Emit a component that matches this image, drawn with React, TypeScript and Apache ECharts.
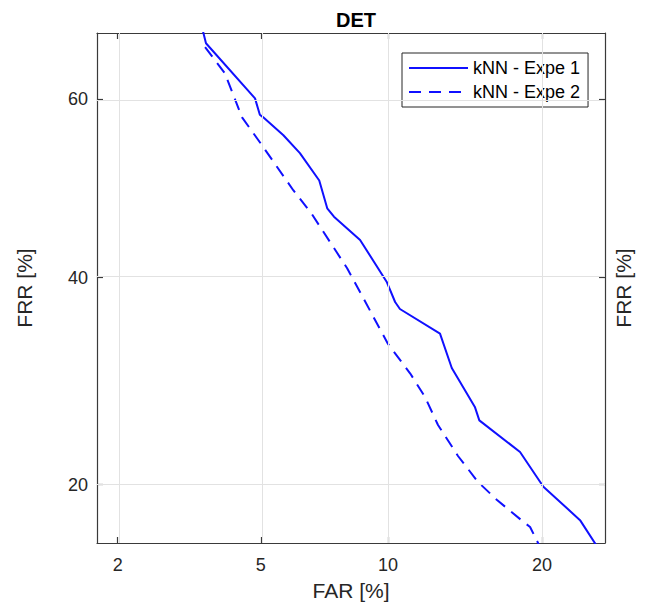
import React, { useEffect, useRef } from "react";
import * as echarts from "echarts";

// DET curve data (percent values)
const farExpe1 = [3.51, 3.58, 4.83, 4.97, 5.07, 5.70, 6.26, 6.97, 7.28, 7.55, 8.67, 9.93, 10.36, 10.61, 12.86, 13.58, 15.07, 15.37, 18.29, 20.11, 23.18, 24.60];
const frrExpe1 = [67.3, 66.0, 60.1, 58.3, 58.0, 56.0, 54.0, 50.9, 47.75, 46.8, 44.18, 39.55, 37.35, 36.6, 34.0, 30.5, 26.74, 25.5, 22.7, 19.84, 17.3, 15.56];

const farExpe2 = [3.56, 4.03, 4.09, 4.26, 4.47, 5.03, 6.03, 6.69, 8.10, 8.30, 10.0, 11.16, 11.98, 12.74, 13.97, 15.28, 16.60, 18.52, 19.06, 19.84];
const frrExpe2 = [65.6, 62.8, 62.1, 60.25, 58.0, 54.9, 49.8, 47.1, 41.03, 40.1, 32.93, 29.95, 27.68, 25.08, 22.36, 20.22, 18.8, 17.2, 16.81, 15.42];

const xTicks = [2, 5, 10, 20];
const yTicks = [20, 40, 60];
const xLimits = [1.73, 25.41];
const yLimits = [15.69, 67.06];

const seriesNames = ["kNN - Expe 1", "kNN - Expe 2"];

// Inverse normal CDF (Acklam) — the normal-deviate scale of a DET plot
function probit(p: number): number {
  const a = [-39.69683028665376, 220.9460984245205, -275.9285104469687, 138.357751867269, -30.66479806614716, 2.506628277459239];
  const b = [-54.47609879822406, 161.5858368580409, -155.6989798598866, 66.80131188771972, -13.28068155288572];
  const c = [-0.007784894002430293, -0.3223964580411365, -2.400758277161838, -2.549732539343734, 4.374664141464968, 2.938163982698783];
  const d = [0.007784695709041462, 0.3224671290700398, 2.445134137142996, 3.754408661907416];
  const pLow = 0.02425;
  const pHigh = 1 - pLow;
  let q: number, r: number;
  if (p < pLow) {
    q = Math.sqrt(-2 * Math.log(p));
    return (((((c[0] * q + c[1]) * q + c[2]) * q + c[3]) * q + c[4]) * q + c[5]) /
      ((((d[0] * q + d[1]) * q + d[2]) * q + d[3]) * q + 1);
  } else if (p <= pHigh) {
    q = p - 0.5;
    r = q * q;
    return (((((a[0] * r + a[1]) * r + a[2]) * r + a[3]) * r + a[4]) * r + a[5]) * q /
      (((((b[0] * r + b[1]) * r + b[2]) * r + b[3]) * r + b[4]) * r + 1);
  } else {
    q = Math.sqrt(-2 * Math.log(1 - p));
    return -(((((c[0] * q + c[1]) * q + c[2]) * q + c[3]) * q + c[4]) * q + c[5]) /
      ((((d[0] * q + d[1]) * q + d[2]) * q + d[3]) * q + 1);
  }
}

const pz = (v: number) => probit(v / 100);

const FONT = "'Liberation Sans', Arial, Helvetica, sans-serif";
const AXIS_COLOR = "#3a3a3a";
const TEXT_COLOR = "#262626";
const GRID_COLOR = "#e2e2e2";
const LINE_COLOR = "#1010ff";

function tickLabel(ticks: number[]) {
  return (v: number) => {
    const t = ticks.find((tv) => Math.abs(pz(tv) - v) < 1e-6);
    return t === undefined ? "" : String(t);
  };
}

export default function App() {
  const ref = useRef<HTMLDivElement>(null);

  useEffect(() => {
    if (!ref.current) return;
    const chart = echarts.init(ref.current, undefined, { renderer: "svg" });

    const xTickVals = xTicks.map(pz);
    const yTickVals = yTicks.map(pz);
    const xMin = pz(xLimits[0]);
    const xMax = pz(xLimits[1]);
    const yMin = pz(yLimits[0]);
    const yMax = pz(yLimits[1]);

    const baseX = {
      type: "value" as const,
      min: xMin,
      max: xMax,
      splitLine: { show: false },
      axisLine: { show: true, onZero: false, lineStyle: { color: AXIS_COLOR, width: 1.2 } },
      axisTick: { show: true, inside: true, length: 6, customValues: xTickVals, lineStyle: { color: AXIS_COLOR, width: 1.2 } },
    };
    const baseY = {
      type: "value" as const,
      min: yMin,
      max: yMax,
      splitLine: { show: false },
      axisLine: { show: true, onZero: false, lineStyle: { color: AXIS_COLOR, width: 1.2 } },
      axisTick: { show: true, inside: true, length: 6, customValues: yTickVals, lineStyle: { color: AXIS_COLOR, width: 1.2 } },
    };

    chart.setOption({
      animation: false,
      backgroundColor: "#ffffff",
      title: {
        text: "DET",
        left: 351,
        textAlign: "center",
        top: 5,
        textStyle: { fontFamily: FONT, fontSize: 20, fontWeight: "bold", color: "#000" },
      },
      grid: { left: 97, right: 46, top: 33, bottom: 69, containLabel: false },
      legend: {
        data: seriesNames,
        orient: "vertical",
        left: 402,
        top: 53,
        padding: [6, 8, 6, 6],
        itemWidth: 59,
        itemHeight: 14,
        itemGap: 6,
        borderColor: "#262626",
        borderWidth: 1,
        backgroundColor: "#ffffff",
        itemStyle: { opacity: 0 },
        textStyle: { fontFamily: FONT, fontSize: 18, color: "#000" },
      },
      xAxis: [
        {
          ...baseX,
          position: "bottom",
          name: "FAR [%]",
          nameLocation: "middle",
          nameGap: 37,
          nameTextStyle: { fontFamily: FONT, fontSize: 21, color: TEXT_COLOR },
          axisLabel: {
            show: true,
            customValues: xTickVals,
            formatter: tickLabel(xTicks),
            margin: 13,
            fontFamily: FONT,
            fontSize: 18,
            color: TEXT_COLOR,
          },
        },
        {
          ...baseX,
          position: "top",
          axisLabel: { show: false },
        },
      ],
      yAxis: [
        {
          ...baseY,
          position: "left",
          name: "FRR [%]",
          nameLocation: "middle",
          nameRotate: 90,
          nameGap: 62,
          nameTextStyle: { fontFamily: FONT, fontSize: 21, color: TEXT_COLOR },
          axisLabel: {
            show: true,
            customValues: yTickVals,
            formatter: tickLabel(yTicks),
            margin: 9,
            fontFamily: FONT,
            fontSize: 18,
            color: TEXT_COLOR,
          },
        },
        {
          ...baseY,
          position: "right",
          name: "FRR [%]",
          nameLocation: "middle",
          nameRotate: 90,
          nameGap: 8,
          nameTextStyle: { fontFamily: FONT, fontSize: 21, color: TEXT_COLOR },
          axisLabel: { show: false },
        },
      ],
      series: [
        {
          name: "grid",
          type: "line",
          xAxisIndex: 0,
          yAxisIndex: 0,
          data: [],
          z: 1,
          silent: true,
          markLine: {
            silent: true,
            symbol: ["none", "none"],
            label: { show: false },
            emphasis: { disabled: true },
            lineStyle: { color: GRID_COLOR, type: "solid", width: 1 },
            data: [
              ...xTickVals.map((v) => ({ xAxis: v })),
              ...yTickVals.map((v) => ({ yAxis: v })),
            ],
          },
        },
        {
          name: seriesNames[0],
          type: "line",
          xAxisIndex: 0,
          yAxisIndex: 0,
          z: 3,
          symbol: "none",
          clip: true,
          lineStyle: { color: LINE_COLOR, width: 2, type: "solid" },
          itemStyle: { color: LINE_COLOR },
          data: farExpe1.map((f, i) => [pz(f), pz(frrExpe1[i])]),
        },
        {
          name: seriesNames[1],
          type: "line",
          xAxisIndex: 0,
          yAxisIndex: 0,
          z: 3,
          symbol: "none",
          clip: true,
          lineStyle: { color: LINE_COLOR, width: 2, type: [12, 8] },
          itemStyle: { color: LINE_COLOR },
          data: farExpe2.map((f, i) => [pz(f), pz(frrExpe2[i])]),
        },
      ],
    });

    return () => {
      chart.dispose();
    };
  }, []);

  return (
    <div
      ref={ref}
      style={{ position: "fixed", left: 0, top: 0, width: 651, height: 612, background: "#fff" }}
    />
  );
}
